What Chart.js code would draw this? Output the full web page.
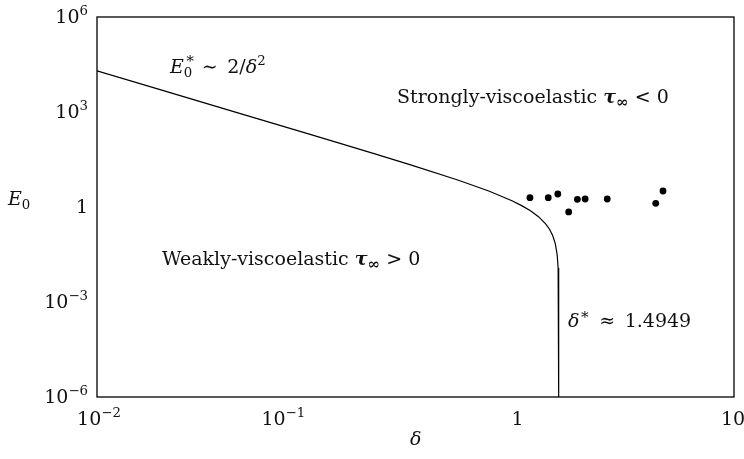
<!DOCTYPE html>
<html>
<head>
<meta charset="utf-8">
<script src="https://cdn.jsdelivr.net/npm/chart.js@4/dist/chart.umd.min.js"></script>
<style>
  body { margin: 0; background: #fff; }
  #wrap { width: 744px; height: 459px; }
</style>
</head>
<body>
<div id="wrap"><canvas id="chart" width="744" height="459"></canvas></div>
<script>
// critical curve E0*(delta)
const curveDelta = [0.01, 0.02, 0.05, 0.1, 0.2, 0.3, 0.5, 0.7, 0.9, 1.0, 1.1, 1.2, 1.3, 1.35, 1.4, 1.44, 1.47, 1.485, 1.492, 1.4945, 1.4949];
const curveE0 = [19999, 4999, 799, 199.1, 49.1, 21.33, 7.105, 3.187, 1.574, 1.105, 0.758, 0.494, 0.288, 0.2024, 0.1254, 0.0695, 0.0305, 0.0119, 0.00348, 0.000524, 0.000001];

// measured points
const dotDelta = [1.094, 1.334, 1.48, 1.665, 1.83, 1.99, 2.53, 4.28, 4.63];
const dotE0 = [1.97, 1.97, 2.57, 0.70, 1.75, 1.79, 1.79, 1.31, 3.2];

// tick labels
const xTickValues = [0.01, 0.1, 1, 10];
const xTickBase = ["10", "10", "1", "10"];
const xTickExp = ["−2", "−1", "", ""];
const yTickValues = [1e-6, 1e-3, 1, 1e3, 1e6];
const yTickBase = ["10", "10", "1", "10", "10"];
const yTickExp = ["−6", "−3", "", "3", "6"];

const FAMILY = "'DejaVu Serif', serif";
const FS = 19;

function font(r, size) {
  return (r.it ? "italic " : "") + (r.b ? "bold " : "") + size + "px " + FAMILY;
}

function runsWidth(ctx, runs, size) {
  let w = 0;
  runs.forEach((r) => {
    ctx.font = font(r, size * (r.s || 1));
    if (!r.nx) w += ctx.measureText(r.t).width;
  });
  return w;
}

// draws a list of text runs (sub/superscripts) starting at x, baseline y
function drawRuns(ctx, x, y, runs, size) {
  runs.forEach((r) => {
    ctx.font = font(r, size * (r.s || 1));
    ctx.fillText(r.t, x + (r.dx || 0), y + (r.dy || 0));
    if (!r.nx) x += ctx.measureText(r.t).width;
  });
}

const labels = [
  { x: 170, y: 73, runs: [
    { t: "E", it: true }, { t: "∗", s: 0.8, dy: -10, dx: 1, nx: true }, { t: "0", s: 0.7, dy: 4 },
    { t: "\u2002∼\u2002" }, { t: "2/" }, { t: "δ", it: true }, { t: "2", s: 0.7, dy: -8 } ] },
  { x: 397, y: 103, runs: [
    { t: "Strongly-viscoelastic " }, { t: "τ", it: true, b: true },
    { t: "∞", b: true, s: 0.8, dy: 4 }, { t: " < 0" } ] },
  { x: 162, y: 265, runs: [
    { t: "Weakly-viscoelastic " }, { t: "τ", it: true, b: true },
    { t: "∞", b: true, s: 0.8, dy: 4 }, { t: " > 0" } ] },
  { x: 568, y: 327, runs: [
    { t: "δ", it: true }, { t: "∗", s: 0.8, dy: -8 }, { t: "\u2002≈\u2002" }, { t: "1.4949" } ] },
  { x: 8, y: 205, runs: [ { t: "E", it: true }, { t: "0", s: 0.7, dy: 4 } ] },
  { x: 410, y: 445, runs: [ { t: "δ", it: true } ] },
];

// small nudges so tick labels sit where they do in the original
const xLabelShift = [2, -26, -4, -1];

const decor = {
  id: "decor",
  afterDraw(chart) {
    const { ctx, chartArea: a, scales } = chart;
    ctx.save();
    ctx.strokeStyle = "#000";
    ctx.lineWidth = 1.3;
    ctx.strokeRect(a.left, a.top, a.right - a.left, a.bottom - a.top);

    ctx.fillStyle = "#111";
    ctx.textBaseline = "alphabetic";
    xTickValues.forEach((v, i) => {
      const runs = [{ t: xTickBase[i] }];
      if (xTickExp[i]) runs.push({ t: xTickExp[i], s: 0.7, dy: -8 });
      const w = runsWidth(ctx, runs, FS);
      const px = scales.x.getPixelForValue(v) + xLabelShift[i];
      drawRuns(ctx, px - w / 2, a.bottom + 28, runs, FS);
    });
    yTickValues.forEach((v, i) => {
      const runs = [{ t: yTickBase[i] }];
      if (yTickExp[i]) runs.push({ t: yTickExp[i], s: 0.7, dy: -8 });
      const w = runsWidth(ctx, runs, FS);
      const py = scales.y.getPixelForValue(v);
      drawRuns(ctx, a.left - 9 - w, py + 6, runs, FS);
    });

    labels.forEach((l) => drawRuns(ctx, l.x, l.y, l.runs, FS));
    ctx.restore();
  },
};

new Chart(document.getElementById("chart").getContext("2d"), {
  type: "scatter",
  data: {
    datasets: [
      {
        data: curveDelta.map((d, i) => ({ x: d, y: curveE0[i] })),
        showLine: true,
        borderColor: "#000",
        borderWidth: 1.2,
        pointRadius: 0,
        tension: 0,
      },
      {
        data: dotDelta.map((d, i) => ({ x: d, y: dotE0[i] })),
        backgroundColor: "#000",
        borderColor: "#000",
        pointRadius: 3.4,
        borderWidth: 0,
      },
    ],
  },
  options: {
    responsive: false,
    animation: false,
    layout: { padding: { left: 97, right: 10, top: 17, bottom: 62 } },
    plugins: { legend: { display: false }, tooltip: { enabled: false } },
    scales: {
      x: { type: "logarithmic", min: 0.01, max: 10, display: false },
      y: { type: "logarithmic", min: 1e-6, max: 1e6, display: false },
    },
  },
  plugins: [decor],
});
</script>
</body>
</html>
